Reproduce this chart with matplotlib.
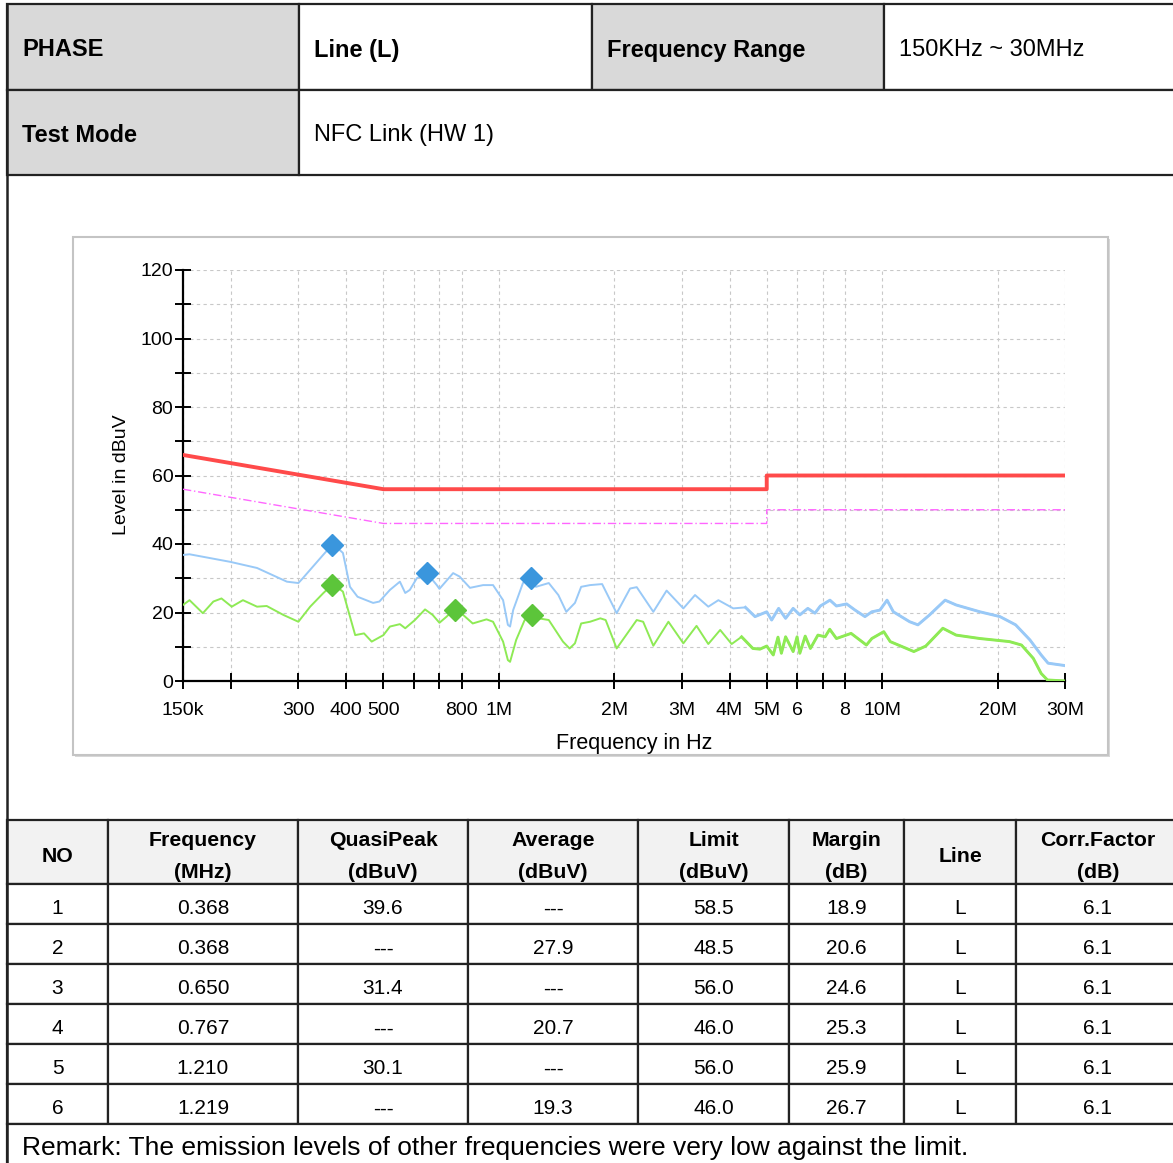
import numpy as np
import matplotlib.pyplot as plt
from matplotlib.patches import Rectangle
from matplotlib.ticker import FixedLocator, NullLocator

plt.rcParams['font.family'] = ['Liberation Sans', 'DejaVu Sans']

# Trazas medidas (frecuencia en MHz, nivel en dBuV)
peak_f = [0.150, 0.156, 0.199, 0.234, 0.280, 0.300, 0.308, 0.348, 0.369, 0.392, 0.409, 0.428,
          0.470, 0.488, 0.520, 0.552, 0.570, 0.586, 0.611, 0.648, 0.689, 0.700, 0.760, 0.790,
          0.841, 0.910, 0.966, 1.026, 1.056, 1.070, 1.090, 1.156, 1.205, 1.250, 1.350, 1.430,
          1.500, 1.580, 1.640, 1.730, 1.860, 2.030, 2.200, 2.290, 2.530, 2.740, 3.030, 3.250,
          3.520, 3.740, 4.090, 4.400, 4.660, 5.000, 5.150, 5.370, 5.600, 5.860, 6.100, 6.400,
          6.680, 6.900, 7.310, 7.600, 8.080, 8.500, 9.020, 9.400, 9.870, 10.30, 10.70, 11.80,
          12.40, 13.30, 14.60, 15.60, 18.00, 20.30, 22.30, 24.30, 26.00, 27.10, 30.00]
peak_v = [36.8, 37.0, 34.8, 33.0, 29.0, 28.6, 30.0, 36.8, 40.0, 37.4, 27.5, 24.6,
          22.8, 23.2, 26.6, 29.0, 25.7, 26.6, 30.0, 31.6, 28.0, 26.9, 31.5, 30.5,
          27.2, 28.0, 28.0, 23.6, 16.4, 15.9, 20.7, 28.6, 30.2, 27.5, 28.6, 25.1,
          20.2, 22.8, 27.5, 28.0, 28.3, 19.8, 27.0, 27.4, 20.2, 26.4, 21.2, 25.1,
          21.7, 23.6, 21.2, 21.5, 18.8, 20.2, 17.8, 21.2, 18.3, 21.2, 19.3, 21.2,
          19.8, 21.9, 23.6, 21.9, 22.5, 20.7, 18.8, 20.2, 20.7, 23.6, 20.2, 17.3,
          16.4, 19.3, 23.6, 22.2, 20.2, 18.8, 16.4, 12.0, 7.6, 5.2, 4.5]

avg_f = [0.150, 0.156, 0.169, 0.180, 0.189, 0.201, 0.215, 0.234, 0.248, 0.274, 0.300, 0.322,
         0.348, 0.369, 0.392, 0.422, 0.445, 0.466, 0.500, 0.520, 0.552, 0.570, 0.604, 0.642,
         0.672, 0.700, 0.731, 0.767, 0.807, 0.855, 0.929, 0.966, 1.026, 1.056, 1.070, 1.110,
         1.168, 1.220, 1.270, 1.350, 1.470, 1.530, 1.580, 1.640, 1.730, 1.840, 1.900, 2.030,
         2.290, 2.380, 2.530, 2.770, 3.030, 3.280, 3.520, 3.780, 4.050, 4.300, 4.600, 4.800,
         5.000, 5.200, 5.350, 5.460, 5.600, 5.860, 6.000, 6.100, 6.300, 6.500, 6.800, 7.100,
         7.300, 7.600, 8.300, 9.100, 9.400, 10.10, 10.50, 12.10, 13.00, 14.40, 15.60, 18.00,
         21.50, 23.10, 24.80, 26.00, 27.00, 30.00]
avg_v = [22.2, 23.6, 19.8, 23.2, 24.1, 21.7, 23.6, 21.7, 21.9, 19.3, 17.3, 21.7,
         25.6, 28.3, 26.1, 13.4, 13.9, 11.5, 13.4, 15.9, 16.6, 15.4, 17.8, 20.9,
         19.3, 17.0, 18.8, 21.1, 19.3, 16.8, 18.0, 17.3, 11.5, 6.1, 5.6, 12.0,
         17.8, 19.0, 18.3, 17.8, 11.5, 9.5, 11.0, 16.8, 17.3, 18.3, 17.8, 9.5,
         17.8, 17.3, 10.3, 17.3, 11.0, 16.1, 10.8, 14.9, 10.8, 12.9, 9.5, 9.3,
         10.2, 7.6, 12.8, 8.1, 12.9, 8.6, 12.9, 8.1, 13.1, 9.5, 13.4, 12.9,
         15.1, 12.4, 13.9, 10.5, 12.4, 14.4, 11.5, 8.6, 10.2, 15.4, 13.4, 12.4,
         11.5, 10.5, 6.6, 2.2, 0.3, 0.0]

# Límites QP y AV
lim_f = [0.15, 0.5, 5.0, 5.0, 30.0]
lim_qp = [66, 56, 56, 60, 60]
lim_av = [56, 46, 46, 50, 50]

# Tabla de resultados
no = [1, 2, 3, 4, 5, 6]
freq_mhz = [0.368, 0.368, 0.650, 0.767, 1.210, 1.219]
qp = [39.6, None, 31.4, None, 30.1, None]
avg = [None, 27.9, None, 20.7, None, 19.3]
limit = [58.5, 48.5, 56.0, 46.0, 56.0, 46.0]
margin = [18.9, 20.6, 24.6, 25.3, 25.9, 26.7]
line = ['L', 'L', 'L', 'L', 'L', 'L']
corr = [6.1, 6.1, 6.1, 6.1, 6.1, 6.1]

x_ticks = [0.15, 0.2, 0.3, 0.4, 0.5, 0.6, 0.7, 0.8, 1, 2, 3, 4, 5, 6, 7, 8, 10, 20, 30]
x_labels = ['150k', '', '300', '400', '500', '', '', '800', '1M', '2M', '3M', '4M',
            '5M', '6', '', '8', '10M', '20M', '30M']

W, H = 1173, 1163
fig = plt.figure(figsize=(W / 100, H / 100), dpi=100)
bg = fig.add_axes([0, 0, 1, 1])
bg.set_xlim(0, W)
bg.set_ylim(H, 0)
bg.axis('off')

edge = '#222222'
gris = '#d9d9d9'


def celda(x0, y0, x1, y1, texto='', bold=False, fondo='white', ha='left', fs=17, dy=3):
    bg.add_patch(Rectangle((x0, y0), x1 - x0, y1 - y0, facecolor=fondo,
                           edgecolor=edge, lw=1.6))
    if texto:
        tx = x0 + 15 if ha == 'left' else (x0 + x1) / 2
        bg.text(tx, (y0 + y1) / 2 + dy, texto, ha=ha, va='center', fontsize=fs,
                fontweight='bold' if bold else 'normal', color='black')


# Tabla superior
celda(7, 4, 299, 90, 'PHASE', True, gris)
celda(299, 4, 592, 90, 'Line (L)', True)
celda(592, 4, 884, 90, 'Frequency Range', True, gris)
celda(884, 4, 1180, 90, '150KHz ~ 30MHz')
celda(7, 90, 299, 175, 'Test Mode', True, gris)
celda(299, 90, 1180, 175, 'NFC Link (HW 1)')

# Borde izquierdo de la página
bg.plot([7, 7], [4, H], color=edge, lw=1.8)

# Panel de la gráfica
bg.add_patch(Rectangle((75, 239), 1035, 518, facecolor='#d8d8d8', edgecolor='none'))
bg.add_patch(Rectangle((73, 237), 1035, 518, facecolor='white', edgecolor='#c4c4c4', lw=1.5))

ax = fig.add_axes([183 / W, 1 - 681 / H, (1065 - 183) / W, (681 - 270) / H])
ax.set_facecolor('none')
ax.set_xscale('log')
ax.set_xlim(0.15, 30)
ax.set_ylim(0, 120)

ax.plot(lim_f, lim_qp, color='#ff4a4a', lw=2.8, zorder=4)
ax.plot(lim_f, lim_av, color='#ff66ff', lw=1.0, dashes=(6, 2, 1, 2), zorder=4)

# por encima de ~4.5 MHz las trazas se ven más gruesas (ruido)
pf, pv = np.array(peak_f), np.array(peak_v)
af, av = np.array(avg_f), np.array(avg_v)
ax.plot(pf, pv, color='#99c9f7', lw=1.4, zorder=3)
ax.plot(af, av, color='#8eea55', lw=1.4, zorder=3)
ax.plot(pf[pf >= 4.4], pv[pf >= 4.4], color='#99c9f7', lw=2.1, zorder=3)
ax.plot(af[af >= 4.3], av[af >= 4.3], color='#8eea55', lw=2.1, zorder=3)

qp_f = [f for f, v in zip(freq_mhz, qp) if v is not None]
qp_v = [v for v in qp if v is not None]
av_f = [f for f, v in zip(freq_mhz, avg) if v is not None]
av_v = [v for v in avg if v is not None]
ax.plot(qp_f, qp_v, 'D', color='#3a96dd', ms=11, mec='#3a96dd', zorder=5, clip_on=False)
ax.plot(av_f, av_v, 'D', color='#5cc53a', ms=11, mec='#5cc53a', zorder=5, clip_on=False)

ax.xaxis.set_major_locator(FixedLocator(x_ticks))
ax.xaxis.set_minor_locator(NullLocator())
ax.set_xticklabels(x_labels)
ax.set_yticks(np.arange(0, 121, 20))
ax.set_yticks(np.arange(10, 120, 20), minor=True)
ax.tick_params(axis='both', which='both', direction='inout', length=12, width=1.4,
               labelsize=14, colors='black')
ax.tick_params(axis='x', pad=9)
ax.tick_params(axis='y', pad=1)
ax.grid(True, which='both', color='#c8c8c8', lw=0.8, dashes=(3, 3))
for s in ['top', 'right']:
    ax.spines[s].set_visible(False)
for s in ['left', 'bottom']:
    ax.spines[s].set_linewidth(1.6)
    ax.spines[s].set_color('black')

bg.text(122, 475, 'Level in dBuV', rotation=90, ha='center', va='center', fontsize=14)
bg.text(634, 743, 'Frequency in Hz', ha='center', va='center', fontsize=15.5)

# Tabla inferior
cols = [7, 108, 298, 468, 638, 789, 904, 1016, 1180]
filas = [820, 884, 924, 964, 1004, 1044, 1084, 1124]
cab1 = ['NO', 'Frequency', 'QuasiPeak', 'Average', 'Limit', 'Margin', 'Line', 'Corr.Factor']
cab2 = ['', '(MHz)', '(dBuV)', '(dBuV)', '(dBuV)', '(dB)', '', '(dB)']
for i in range(8):
    x0, x1 = cols[i], cols[i + 1]
    celda(x0, filas[0], x1, filas[1], fondo='#f2f2f2')
    xc = (x0 + x1) / 2
    if cab2[i]:
        bg.text(xc, 841, cab1[i], ha='center', va='center', fontsize=15.3, fontweight='bold')
        bg.text(xc, 872, cab2[i], ha='center', va='center', fontsize=15.3, fontweight='bold')
    else:
        bg.text(xc, 857, cab1[i], ha='center', va='center', fontsize=15.3, fontweight='bold')


def fmt(v):
    return '---' if v is None else f'{v:.1f}'


for r in range(6):
    valores = [str(no[r]), f'{freq_mhz[r]:.3f}', fmt(qp[r]), fmt(avg[r]),
               fmt(limit[r]), fmt(margin[r]), line[r], fmt(corr[r])]
    for i in range(8):
        celda(cols[i], filas[r + 1], cols[i + 1], filas[r + 2], valores[i],
              ha='center', fs=15, dy=5)

celda(7, 1124, 1180, 1170)
bg.text(22, 1148, 'Remark: The emission levels of other frequencies were very low against the limit.',
        ha='left', va='center', fontsize=19)

fig.savefig('out.png', dpi=100)
